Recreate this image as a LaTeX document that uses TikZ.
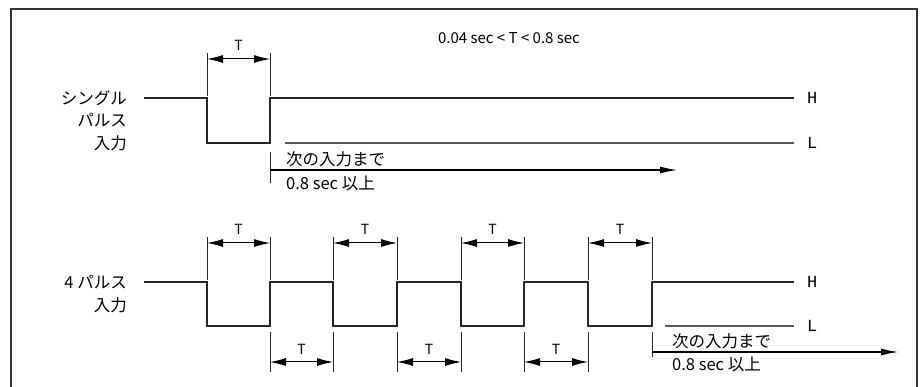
\documentclass[tikz,border=0pt]{standalone}
\usepackage{fontspec}
\setmainfont{Noto Sans CJK JP}
\newfontfamily\hlfont{Liberation Mono}
\usetikzlibrary{arrows.meta}
\tikzset{
  wave/.style={line width=1.8pt, black!85, line join=miter},
  reflvl/.style={line width=1.3pt, black!65},
  tick/.style={line width=0.8pt, black!85},
  dimarrow/.style={line width=1pt, black, {Latex[length=16pt,width=8pt]}-{Latex[length=16pt,width=8pt]}},
  onearrow/.style={line width=1.1pt, black, -{Latex[length=17pt,width=7pt]}},
  lbl/.style={font=\fontsize{16.5}{20}\selectfont, inner sep=0pt, text=black},
  tlbl/.style={font=\fontsize{14}{16}\selectfont, inner sep=0pt, text=black},
  hl/.style={font=\hlfont\fontsize{17}{18}\selectfont, inner sep=0pt, text=black, anchor=west},
  frame/.style={line width=2.2pt, black!80},
}
\begin{document}
\begin{tikzpicture}[x=1pt,y=-1pt]
\useasboundingbox (0,0) rectangle (924,387);
% frame
\draw[frame] (11,390) -- (11,9) -- (917,9) -- (917,390);
% condition text
\node[lbl, font=\fontsize{15}{18}\selectfont] (cond) at (509,38) {0.04 sec < T < 0.8 sec};

% ---------- single pulse ----------
\node[lbl, anchor=east] (s1) at (127,98) {シングル};
\node[lbl, anchor=east] (s2) at (127,120) {パルス};
\node[lbl, anchor=east] (s3) at (127,143) {入力};
\draw[wave] (144,98) -- (207,98) -- (207,143) -- (270,143) -- (270,98) -- (794,98);
\draw[reflvl] (285,143) -- (794,143);
\node[hl] (sH) at (807,98) {H};
\node[hl] (sL) at (807,143) {L};
% T dimension
\draw[tick] (207,53) -- (207,96);
\draw[tick] (270,53) -- (270,96);
\draw[dimarrow] (207,59) -- (270,59);
\node[tlbl] (sT) at (238.5,45) {T};
% next input
\coordinate (sa0) at (270,170);
\coordinate (sa1) at (677,170);
\draw[tick] (270,152) -- (270,183);
\draw[onearrow] (sa0) -- (sa1);
\node[lbl, anchor=west] (sn1) at (286,159) {次の入力まで};
\node[lbl, anchor=west] (sn2) at (286,183) {0.8 sec 以上};

% ---------- 4 pulses ----------
\node[lbl, anchor=east] (f1) at (127,282) {4 パルス};
\node[lbl, anchor=east] (f2) at (127,305) {入力};
\draw[wave] (144,282) -- (207,282) -- (207,326) -- (270,326) -- (270,282)
  -- (333,282) -- (333,326) -- (397,326) -- (397,282)
  -- (461,282) -- (461,326) -- (524,326) -- (524,282)
  -- (588,282) -- (588,326) -- (652,326) -- (652,282) -- (794,282);
\draw[reflvl] (665,326) -- (794,326);
\node[hl] (fH) at (807,282) {H};
\node[hl] (fL) at (807,326) {L};
% upper T dimensions
\foreach \a/\b in {207/270, 333/397, 461/524, 588/652}{
  \draw[tick] (\a,237) -- (\a,280);
  \draw[tick] (\b,237) -- (\b,280);
  \draw[dimarrow] (\a,243) -- (\b,243);
  \node[tlbl] at ({(\a+\b)/2},229) {T};
}
% lower T dimensions
\foreach \a/\b in {270/333, 397/461, 524/588}{
  \draw[tick] (\a,332) -- (\a,372);
  \draw[tick] (\b,332) -- (\b,372);
  \draw[dimarrow] (\a,362) -- (\b,362);
  \node[tlbl] at ({(\a+\b)/2},349) {T};
}
% next input
\coordinate (fa0) at (652,352);
\coordinate (fa1) at (898,352);
\draw[tick] (652,332) -- (652,357);
\draw[onearrow] (fa0) -- (fa1);
\node[lbl, anchor=west] (fn1) at (672,341) {次の入力まで};
\node[lbl, anchor=west] (fn2) at (672,364) {0.8 sec 以上};
\end{tikzpicture}
\end{document}
